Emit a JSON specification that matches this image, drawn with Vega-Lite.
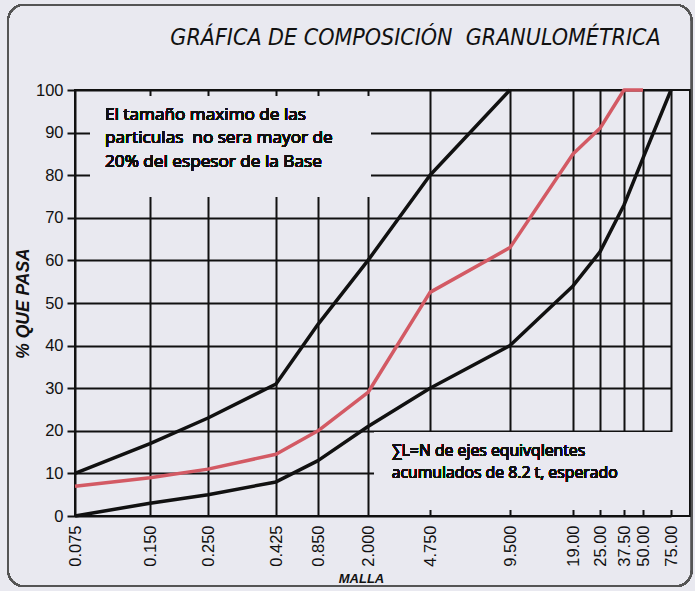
{
  "$schema": "https://vega.github.io/schema/vega-lite/v6.json",
  "width": 615,
  "height": 426,
  "autosize": {"type": "none"},
  "padding": {"left": 75, "top": 90, "right": 5, "bottom": 75},
  "background": "#e9e9f0",
  "title": {
    "text": "GRÁFICA DE COMPOSICIÓN\u00a0 GRANULOMÉTRICA",
    "font": "Liberation Sans Narrow, DejaVu Sans Condensed, Liberation Sans",
    "fontStyle": "italic",
    "fontWeight": "normal",
    "fontSize": 23,
    "color": "#111111",
    "anchor": "middle",
    "dx": 33,
    "offset": -46
  },
  "config": {
    "view": {"stroke": "#111111", "strokeWidth": 2},
    "axis": {"domain": false}
  },
  "data": {
    "values": [
      {"serie": "sup", "malla": 0.075, "pct": 10},
      {"serie": "sup", "malla": 0.15, "pct": 17},
      {"serie": "sup", "malla": 0.25, "pct": 23},
      {"serie": "sup", "malla": 0.425, "pct": 31},
      {"serie": "sup", "malla": 0.85, "pct": 45},
      {"serie": "sup", "malla": 2.0, "pct": 60},
      {"serie": "sup", "malla": 4.75, "pct": 80},
      {"serie": "sup", "malla": 9.5, "pct": 100},
      {"serie": "real", "malla": 0.075, "pct": 7},
      {"serie": "real", "malla": 0.15, "pct": 9},
      {"serie": "real", "malla": 0.25, "pct": 11},
      {"serie": "real", "malla": 0.425, "pct": 14.5},
      {"serie": "real", "malla": 0.85, "pct": 20},
      {"serie": "real", "malla": 2.0, "pct": 29},
      {"serie": "real", "malla": 4.75, "pct": 52.5},
      {"serie": "real", "malla": 9.5, "pct": 63},
      {"serie": "real", "malla": 19.0, "pct": 85},
      {"serie": "real", "malla": 25.0, "pct": 91},
      {"serie": "real", "malla": 37.5, "pct": 100},
      {"serie": "real", "malla": 50.0, "pct": 100},
      {"serie": "inf", "malla": 0.075, "pct": 0},
      {"serie": "inf", "malla": 0.15, "pct": 3},
      {"serie": "inf", "malla": 0.25, "pct": 5},
      {"serie": "inf", "malla": 0.425, "pct": 8},
      {"serie": "inf", "malla": 0.85, "pct": 13},
      {"serie": "inf", "malla": 2.0, "pct": 21},
      {"serie": "inf", "malla": 4.75, "pct": 30},
      {"serie": "inf", "malla": 9.5, "pct": 40},
      {"serie": "inf", "malla": 19.0, "pct": 54},
      {"serie": "inf", "malla": 25.0, "pct": 62},
      {"serie": "inf", "malla": 37.5, "pct": 73},
      {"serie": "inf", "malla": 50.0, "pct": 84},
      {"serie": "inf", "malla": 75.0, "pct": 100}
    ]
  },
  "layer": [
    {
      "mark": {"type": "line", "strokeWidth": 3.5, "strokeJoin": "round"},
      "encoding": {
        "x": {
          "field": "malla",
          "type": "quantitative",
          "scale": {
            "type": "linear",
            "domain": [0.075, 0.15, 0.25, 0.425, 0.85, 2, 4.75, 9.5, 19, 25, 37.5, 50, 75],
            "range": [0, 75, 133, 201, 243, 293, 355, 435, 498, 525, 549, 568, 596],
            "nice": false,
            "zero": false
          },
          "axis": {
            "values": [0.075, 0.15, 0.25, 0.425, 0.85, 2, 4.75, 9.5, 19, 25, 37.5, 50, 75],
            "labelExpr": "datum.value < 10 ? format(datum.value, '.3f') : format(datum.value, '.2f')",
            "labelAngle": -90,
            "labelFont": "Liberation Sans",
            "labelFontSize": 16.5,
            "labelColor": "#111111",
            "labelPadding": 9,
            "labelOverlap": false,
            "labelBound": false,
            "labelFlush": false,
            "ticks": false,
            "grid": true,
            "gridColor": "#111111",
            "gridWidth": 2,
            "gridOpacity": 1,
            "title": "MALLA",
            "titleFont": "Liberation Sans",
            "titleFontStyle": "italic",
            "titleFontWeight": "bold",
            "titleFontSize": 13,
            "titleColor": "#111111",
            "titleX": 286,
            "titleY": 56
          }
        },
        "y": {
          "field": "pct",
          "type": "quantitative",
          "scale": {"domain": [0, 100], "nice": false},
          "axis": {
            "values": [0, 10, 20, 30, 40, 50, 60, 70, 80, 90, 100],
            "labelFont": "Liberation Sans",
            "labelFontSize": 16.5,
            "labelColor": "#111111",
            "labelPadding": 4,
            "tickSize": 8,
            "tickColor": "#111111",
            "tickWidth": 2,
            "grid": true,
            "gridColor": "#111111",
            "gridWidth": 2,
            "gridOpacity": 1,
            "title": "% QUE PASA",
            "titleFont": "Liberation Sans",
            "titleFontStyle": "italic",
            "titleFontWeight": "bold",
            "titleFontSize": 17.5,
            "titleColor": "#111111",
            "titlePadding": 3
          }
        },
        "color": {
          "field": "serie",
          "type": "nominal",
          "scale": {"domain": ["sup", "real", "inf"], "range": ["#111111", "#d35a64", "#111111"]},
          "legend": null
        },
        "detail": {"field": "serie"}
      }
    },
    {
      "mark": {"type": "rect", "fill": "#e9e9f0", "stroke": null},
      "encoding": {
        "x": {"datum": 0.09, "type": "quantitative"},
        "x2": {"datum": 2.13},
        "y": {"datum": 75, "type": "quantitative"},
        "y2": {"datum": 98.5}
      }
    },
    {
      "mark": {"type": "rect", "fill": "#e9e9f0", "stroke": null},
      "encoding": {
        "x": {"datum": 2.3, "type": "quantitative"},
        "x2": {"datum": 84.8},
        "y": {"datum": 1.5, "type": "quantitative"},
        "y2": {"datum": 19.6}
      }
    },
    {
      "mark": {"type": "rect", "fill": null, "stroke": "#555555", "strokeWidth": 1.5, "cornerRadius": 16, "clip": false},
      "encoding": {
        "x": {"datum": 0.008, "type": "quantitative"},
        "x2": {"datum": 93.5},
        "y": {"datum": -16.5, "type": "quantitative"},
        "y2": {"datum": 120}
      }
    },
    {
      "mark": {
        "type": "text",
        "text": ["El tamaño maximo de las", "particulas\u00a0 no sera mayor de", "20% del espesor de la Base"],
        "align": "left",
        "baseline": "top",
        "lineHeight": 23.5,
        "font": "Open Sans",
        "fontWeight": "normal",
        "fontSize": 17.2,
        "fill": "#111111",
        "stroke": null
      },
      "encoding": {
        "x": {"datum": 0.105, "type": "quantitative"},
        "y": {"datum": 96.3, "type": "quantitative"}
      }
    },
    {
      "mark": {
        "type": "text",
        "text": ["∑L=N de ejes equivqlentes", "acumulados de 8.2 t, esperado"],
        "align": "left",
        "baseline": "top",
        "lineHeight": 22.5,
        "font": "Open Sans",
        "fontWeight": "normal",
        "fontSize": 15.8,
        "fill": "#111111",
        "stroke": null
      },
      "encoding": {
        "x": {"datum": 3.05, "type": "quantitative"},
        "y": {"datum": 17.0, "type": "quantitative"}
      }
    }
  ]
}
